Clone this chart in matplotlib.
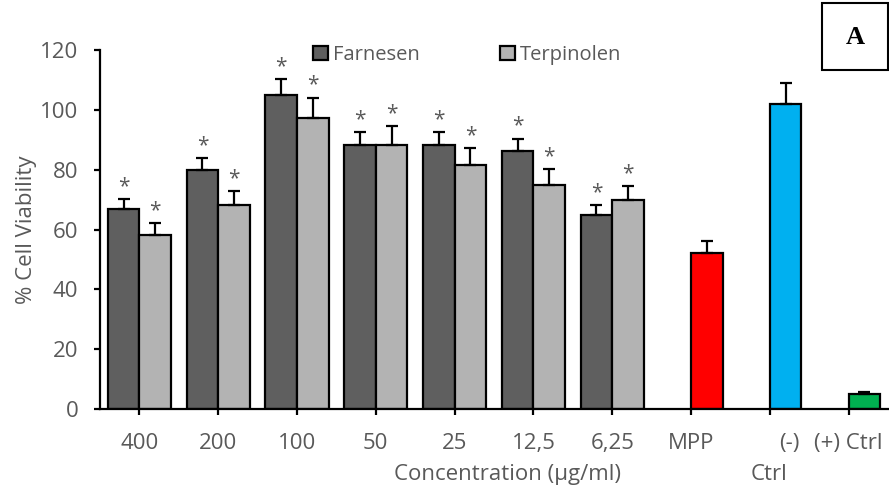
import matplotlib.pyplot as plt
import numpy as np
from matplotlib.patches import Rectangle

plt.rcParams['font.family'] = ['Open Sans', 'DejaVu Sans']

# concentrations (µg/ml) and readings
conc = ['400', '200', '100', '50', '25', '12,5', '6,25']
farnesen = [66.9, 79.9, 105.0, 88.2, 88.2, 86.1, 64.8]
farnesen_err = [3.3, 4.1, 5.4, 4.3, 4.4, 4.3, 3.3]
terpinolen = [58.2, 68.1, 97.3, 88.3, 81.6, 74.9, 69.7]
terpinolen_err = [4.0, 4.7, 6.8, 6.2, 5.7, 5.3, 4.9]

ctrl_names = ['MPP', '(-) Ctrl', '(+) Ctrl']
ctrl_vals = [52.3, 101.8, 5.1]
ctrl_err = [3.7, 7.3, 0.5]
ctrl_colors = ['#ff0000', '#00b0f0', '#00b050']

gray = '#595959'
w = 0.4

fig = plt.figure(figsize=(8.89, 4.95), dpi=100)
ax = fig.add_axes([100/889, 86/495, 788/889, 359/495])

x = np.arange(len(conc))
ekw = dict(elinewidth=1.6, capthick=1.6, capsize=4.5, ecolor='black')
ax.bar(x - w/2, farnesen, w, color='#5f5f5f', edgecolor='black', linewidth=1.6,
       yerr=[np.zeros(len(x)), farnesen_err], error_kw=ekw, label='Farnesen', zorder=2)
ax.bar(x + w/2, terpinolen, w, color='#b3b3b3', edgecolor='black', linewidth=1.6,
       yerr=[np.zeros(len(x)), terpinolen_err], error_kw=ekw, label='Terpinolen', zorder=2)

xc = np.arange(len(conc), len(conc) + len(ctrl_names))
ax.bar(xc + w/2, ctrl_vals, w, color=ctrl_colors, edgecolor='black', linewidth=1.6,
       yerr=[np.zeros(len(xc)), ctrl_err], error_kw=ekw, zorder=2)

# significance stars
for xi, v, e in zip(x - w/2, farnesen, farnesen_err):
    ax.annotate('*', (xi, v + e), xytext=(0, 5), textcoords='offset points',
                ha='center', va='baseline', fontsize=15, color=gray)
for xi, v, e in zip(x + w/2, terpinolen, terpinolen_err):
    ax.annotate('*', (xi, v + e), xytext=(0, 5), textcoords='offset points',
                ha='center', va='baseline', fontsize=15, color=gray)

ax.set_xlim(-0.5, 9.5)
ax.set_ylim(0, 120)
ax.set_yticks(np.arange(0, 121, 20))
ax.set_xticks(np.arange(10))
ax.set_xticklabels(conc + ['MPP', '', '(+) Ctrl'])
ax.tick_params(axis='y', length=4.5, width=1.6, pad=11, labelsize=16, labelcolor=gray)
ax.tick_params(axis='x', length=4, width=1.6, pad=13, labelsize=16, labelcolor=gray)
for s in ['top', 'right']:
    ax.spines[s].set_visible(False)
for s in ['left', 'bottom']:
    ax.spines[s].set_linewidth(1.6)

# Excel wrapped the "(-) Ctrl" label oddly
ax.annotate('(-)', (8, 0), xycoords=('data', 'axes fraction'), xytext=(20, -24),
            textcoords='offset pixels', ha='center', va='top', fontsize=16, color=gray)
ax.annotate('Ctrl', (8, 0), xycoords=('data', 'axes fraction'), xytext=(-1, -55),
            textcoords='offset pixels', ha='center', va='top', fontsize=16, color=gray)

ax.set_ylabel('% Cell Viability', fontsize=16, color=gray)
ax.yaxis.set_label_coords(-63/788, 0.5)
ax.set_xlabel('Concentration (µg/ml)', fontsize=16, color=gray)
ax.xaxis.set_label_coords(408/788, -55/359)

ax.legend(loc='center', bbox_to_anchor=(467/889, 1 - 55/495), bbox_transform=fig.transFigure,
          ncol=2, frameon=False, fontsize=14.5, labelcolor=gray, handlelength=0.75,
          handleheight=0.75, handletextpad=0.25, columnspacing=4.0)

fig.patches.append(Rectangle((822/889, 1 - 70/495), 66/889, 67/495, transform=fig.transFigure,
                             facecolor='white', edgecolor='black', linewidth=1.5))
fig.text(855/889, 1 - 37/495, 'A', ha='center', va='center', fontsize=19,
         fontweight='bold', family='Liberation Serif')

fig.savefig('out.png', dpi=100)
